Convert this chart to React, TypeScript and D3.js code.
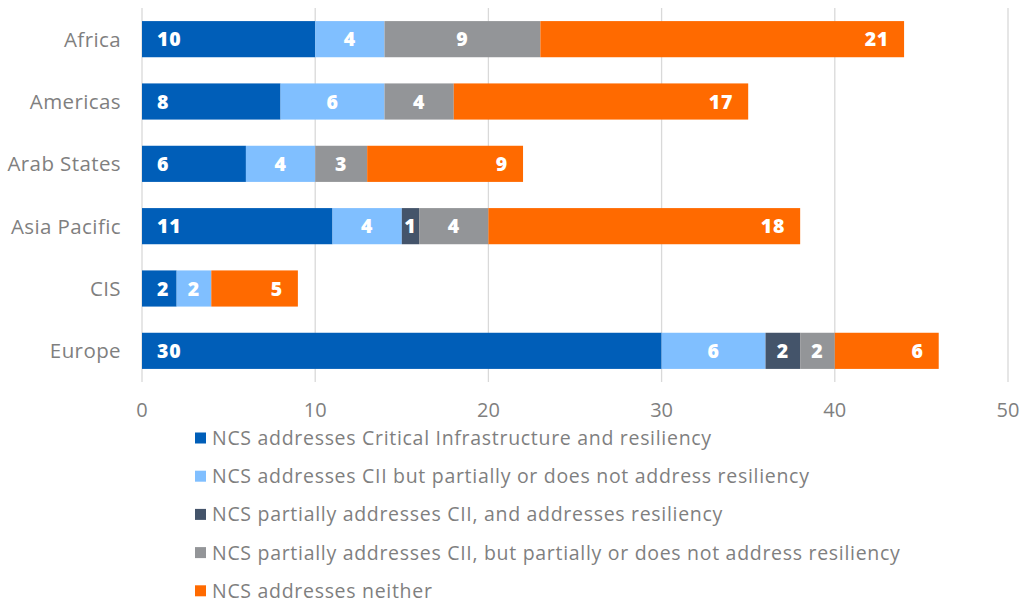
import React from "react";
import * as d3 from "d3";

const categories = ["Africa", "Americas", "Arab States", "Asia Pacific", "CIS", "Europe"];
const seriesNames = [
  "NCS addresses Critical Infrastructure and resiliency",
  "NCS addresses CII but partially or does not address resiliency",
  "NCS partially addresses CII, and addresses resiliency",
  "NCS partially addresses CII, but partially or does not address resiliency",
  "NCS addresses neither",
];
const s1 = [10, 8, 6, 11, 2, 30];
const s2 = [4, 6, 4, 4, 2, 6];
const s3 = [0, 0, 0, 1, 0, 2];
const s4 = [9, 4, 3, 4, 0, 2];
const s5 = [21, 17, 9, 18, 5, 6];
const xTicks = [0, 10, 20, 30, 40, 50];
const colors = ["#005EB8", "#80BFFF", "#44546A", "#939598", "#FF6A00"];

const FONT = "'Open Sans', Lato, sans-serif";

export default function App() {
  const W = 1026, H = 603;
  const x = d3.scaleLinear().domain([0, 50]).range([142, 1008]);
  const y = d3.scaleBand<string>().domain(categories).range([8, 382]).paddingInner(0.42).paddingOuter(0.21);
  const series = [s1, s2, s3, s4, s5];
  const rows = categories.map((c, i) => {
    const obj: any = { cat: c };
    series.forEach((s, k) => (obj["s" + k] = s[i]));
    return obj;
  });
  const stack = d3.stack<any>().keys(series.map((_, k) => "s" + k))(rows);
  const bw = y.bandwidth();

  return (
    <div style={{ position: "fixed", left: 0, top: 0 }}>
      <svg width={W} height={H} style={{ display: "block", background: "#fff" }} fontFamily={FONT}>
        {xTicks.map((t) => (
          <g key={t}>
            <line x1={x(t)} x2={x(t)} y1={8} y2={382} stroke="#D9D9D9" strokeWidth={1.3} />
            <text x={x(t)} y={410} dy="0.36em" textAnchor="middle" fontSize={20} fill="#7F7F7F">{t}</text>
          </g>
        ))}
        {categories.map((c) => (
          <text key={c} x={121} y={(y(c) as number) + bw / 2} dy="0.36em" textAnchor="end" fontSize={20.5} letterSpacing={0.4} fill="#7F7F7F">{c}</text>
        ))}
        {stack.map((layer, k) => (
          <g key={k}>
            {layer.map((d, i) => {
              const v = d[1] - d[0];
              if (v <= 0) return null;
              const x0 = x(d[0]), x1 = x(d[1]);
              const yy = y(categories[i]) as number;
              let lx = (x0 + x1) / 2, anchor: any = "middle";
              if (k === 0) { lx = x0 + 15; anchor = "start"; }
              if (k === 4) { lx = x1 - 15; anchor = "end"; }
              return (
                <g key={i}>
                  <rect x={x0} y={yy} width={x1 - x0} height={bw} fill={colors[k]} />
                  <text x={lx} y={yy + bw / 2} dy="0.36em" textAnchor={anchor} fontSize={19.5} fontWeight={800} letterSpacing={0.8} fill="#fff">{v}</text>
                </g>
              );
            })}
          </g>
        ))}
        {seriesNames.map((n, k) => {
          const cy = 438 + k * 38.2;
          return (
            <g key={n}>
              <rect x={195} y={cy - 5.5} width={11} height={11} fill={colors[k]} />
              <text x={212} y={cy} dy="0.36em" fontSize={19.5} letterSpacing={0.7} fill="#7F7F7F">{n}</text>
            </g>
          );
        })}
      </svg>
    </div>
  );
}
